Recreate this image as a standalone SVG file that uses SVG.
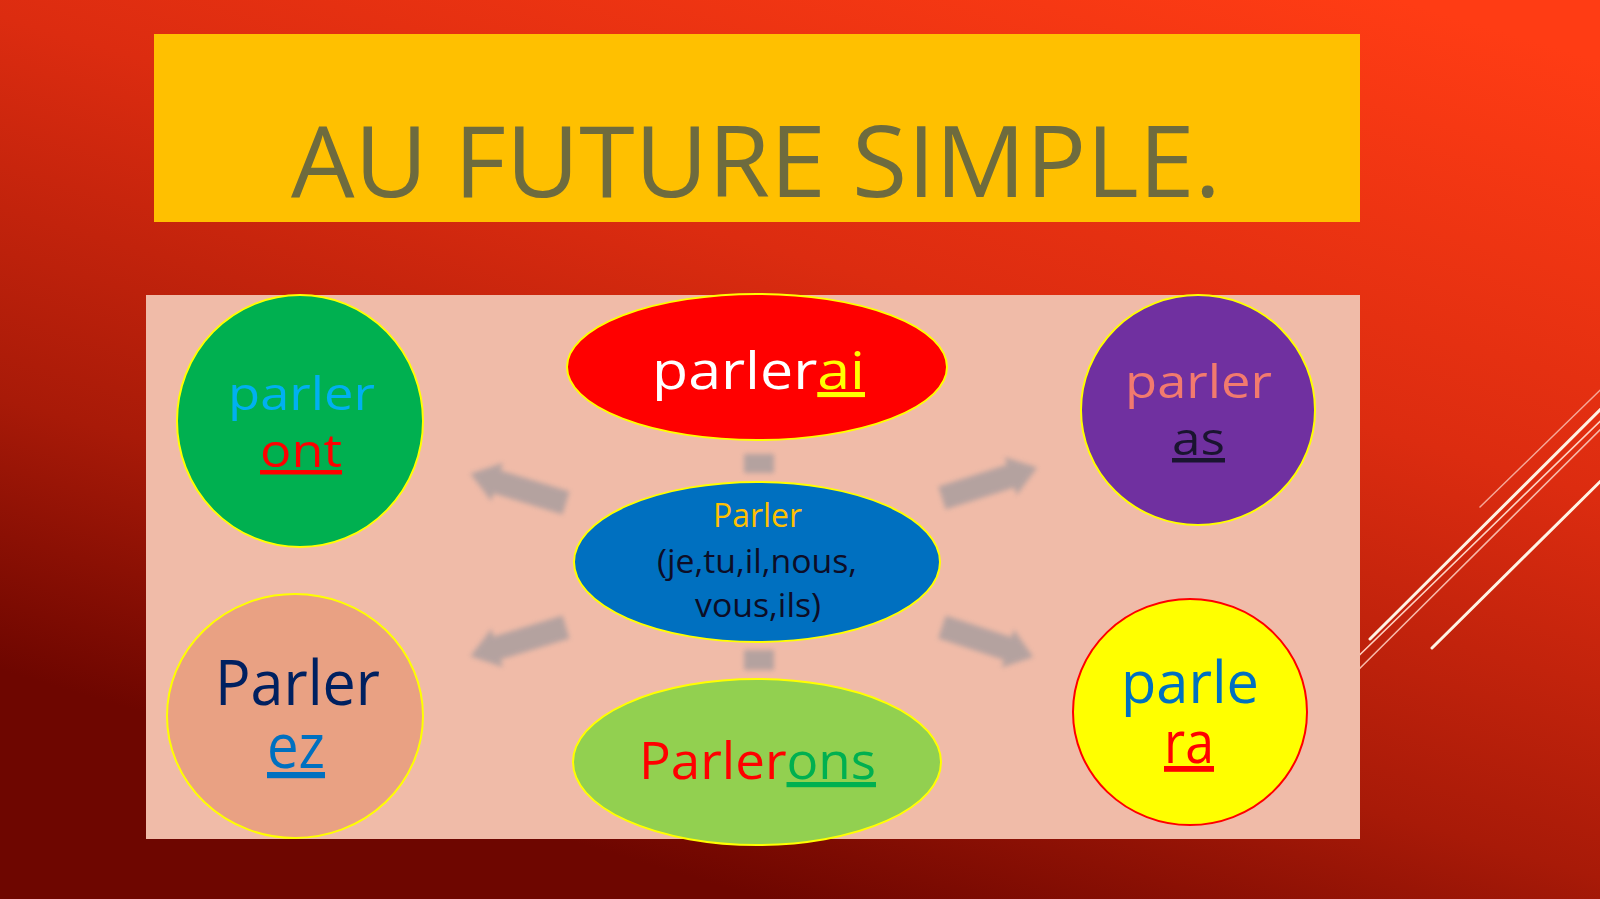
<svg xmlns="http://www.w3.org/2000/svg" width="1600" height="899" viewBox="0 0 1600 899">
<defs>
<linearGradient id="bg" gradientUnits="userSpaceOnUse" x1="1300" y1="-30" x2="1000" y2="970">
<stop offset="0" stop-color="#ff3c14"/>
<stop offset="0.4" stop-color="#dc2c10"/>
<stop offset="0.75" stop-color="#a81a08"/>
<stop offset="1" stop-color="#6e0600"/>
</linearGradient>
<filter id="soft" x="-20%" y="-40%" width="140%" height="180%"><feGaussianBlur stdDeviation="2.5"/></filter>
<path id="arr" d="M0,-12 L72,-12 L72,-20 L100,0 L72,20 L72,12 L0,12 Z"/>
</defs>
<style>
text{font-family:"Open Sans","Liberation Sans",sans-serif;}
.node{stroke:#ffff00;stroke-width:2;}
.arrow{fill:#a69c9e;opacity:0.8;filter:url(#soft);}
.deco{stroke-linecap:round;fill:none;}
.u{text-decoration:underline;}
</style>
<rect x="0" y="0" width="1600" height="899" fill="url(#bg)"/>
<g id="decor">
<line class="deco" x1="1480" y1="507" x2="1625" y2="366" stroke="#f6a898" stroke-width="1.5"/>
<line class="deco" x1="1370" y1="639" x2="1625" y2="385" stroke="#fff4e4" stroke-width="3"/>
<line class="deco" x1="1340" y1="674" x2="1625" y2="397" stroke="#ffd2c2" stroke-width="1.6"/>
<line class="deco" x1="1340" y1="688" x2="1625" y2="405" stroke="#f8b8a8" stroke-width="1.6"/>
<line class="deco" x1="1432" y1="648" x2="1625" y2="457" stroke="#fff4e4" stroke-width="3"/>
</g>
<g id="title">
<rect x="154" y="34" width="1206" height="188" fill="#ffc000"/>
<text x="291" y="197" font-size="99" fill="#6e6b3e" textLength="930" lengthAdjust="spacingAndGlyphs">AU FUTURE SIMPLE.</text>
</g>
<rect id="panel" x="146" y="295" width="1214" height="544" fill="#f0bba8"/>
<g id="connectors">
<use href="#arr" class="arrow" transform="translate(566,503) rotate(197)"/>
<use href="#arr" class="arrow" transform="translate(942,498) rotate(-17.7)"/>
<use href="#arr" class="arrow" transform="translate(566,627) rotate(163)"/>
<use href="#arr" class="arrow" transform="translate(942,627) rotate(18.2) scale(0.96,1)"/>
<rect class="arrow" x="744" y="454" width="30" height="19"/>
<rect class="arrow" x="744" y="650" width="30" height="20"/>
</g>
<g id="node-ont">
<ellipse class="node" cx="300" cy="421" rx="123" ry="126" fill="#00b050"/>
<text x="228" y="410" font-size="45" fill="#00b0f0" textLength="147" lengthAdjust="spacingAndGlyphs">parler</text>
<text x="260" y="467" font-size="45" fill="#ff0000" class="u" textLength="82" lengthAdjust="spacingAndGlyphs">ont</text>
</g>
<g id="node-ai">
<ellipse class="node" cx="757" cy="367" rx="190" ry="73" fill="#ff0000"/>
<text x="652" y="389" font-size="51" fill="#ffffff" textLength="213" lengthAdjust="spacingAndGlyphs">parler<tspan fill="#ffff00" class="u">ai</tspan></text>
</g>
<g id="node-as">
<ellipse class="node" cx="1198" cy="410" rx="117" ry="115" fill="#7030a0"/>
<text x="1125" y="398" font-size="45" fill="#f27a6e" textLength="147" lengthAdjust="spacingAndGlyphs">parler</text>
<text x="1172" y="455" font-size="45" fill="#1a1430" class="u" textLength="53" lengthAdjust="spacingAndGlyphs">as</text>
</g>
<g id="node-center">
<ellipse class="node" cx="757" cy="562" rx="183" ry="80" fill="#0070c0"/>
<text x="713" y="527" font-size="32" fill="#ffc000" textLength="89" lengthAdjust="spacingAndGlyphs">Parler</text>
<text x="657" y="573" font-size="32" fill="#0d0d26" textLength="200" lengthAdjust="spacingAndGlyphs">(je,tu,il,nous,</text>
<text x="695" y="617" font-size="32" fill="#0d0d26" textLength="126" lengthAdjust="spacingAndGlyphs">vous,ils)</text>
</g>
<g id="node-ez">
<ellipse class="node" cx="295" cy="716" rx="128" ry="122" fill="#e9a183"/>
<text x="215" y="705" font-size="62" fill="#002060" textLength="165" lengthAdjust="spacingAndGlyphs">Parler</text>
<text x="267" y="768" font-size="62" fill="#0070c0" class="u" textLength="58" lengthAdjust="spacingAndGlyphs">ez</text>
</g>
<g id="node-ons">
<ellipse class="node" cx="757" cy="762" rx="184" ry="83" fill="#92d050"/>
<text x="639" y="779" font-size="52" fill="#ff0000" textLength="237" lengthAdjust="spacingAndGlyphs">Parler<tspan fill="#00b050" class="u">ons</tspan></text>
</g>
<g id="node-ra">
<ellipse cx="1190" cy="712" rx="117" ry="113" fill="#ffff00" stroke="#ff0000" stroke-width="2"/>
<text x="1121" y="703" font-size="58" fill="#0070c0" textLength="138" lengthAdjust="spacingAndGlyphs">parle</text>
<text x="1164" y="763" font-size="58" fill="#ff0000" class="u" textLength="50" lengthAdjust="spacingAndGlyphs">ra</text>
</g>
</svg>
